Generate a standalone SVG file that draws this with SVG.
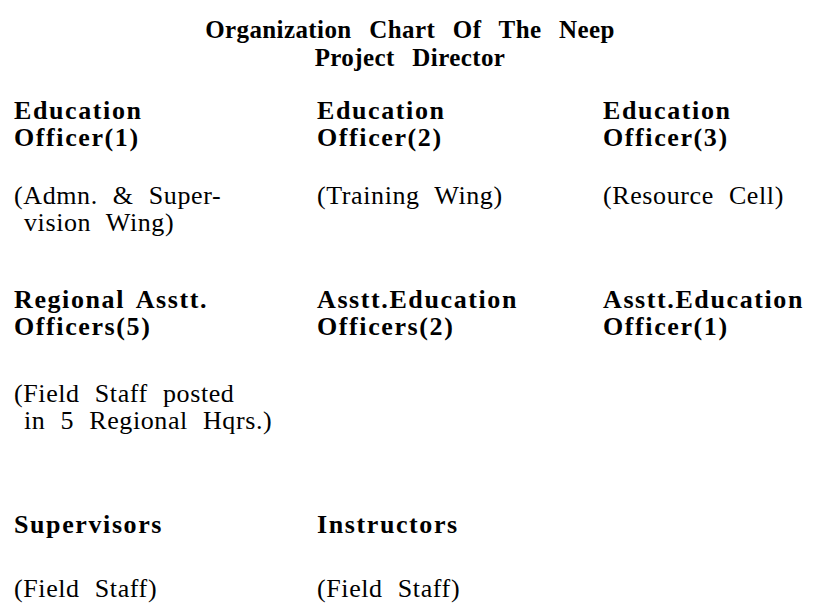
<svg xmlns="http://www.w3.org/2000/svg" width="814" height="605" viewBox="0 0 814 605">
<style>
text{font-family:"Liberation Serif","Times New Roman",serif;font-size:26px;fill:#000}
.t{font-size:25px;font-weight:bold;letter-spacing:0.4px;word-spacing:11px;text-anchor:middle}
.b{font-weight:bold;letter-spacing:1.6px;word-spacing:4px}
.r{letter-spacing:0.6px;word-spacing:8px}
</style>
<rect width="814" height="605" fill="#fff"/>
<g id="title">
<text class="t" x="410" y="38">Organization Chart Of The Neep</text>
<text class="t" x="410" y="66">Project Director</text>
</g>
<g id="eo1">
<text class="b" x="14" y="119">Education</text>
<text class="b" x="14" y="146">Officer(1)</text>
<text class="r" x="14" y="204">(Admn. &amp; Super-</text>
<text class="r" x="24" y="231">vision Wing)</text>
</g>
<g id="eo2">
<text class="b" x="317" y="119">Education</text>
<text class="b" x="317" y="146">Officer(2)</text>
<text class="r" x="317" y="204">(Training Wing)</text>
</g>
<g id="eo3">
<text class="b" x="603" y="119">Education</text>
<text class="b" x="603" y="146">Officer(3)</text>
<text class="r" x="603" y="204">(Resource Cell)</text>
</g>
<g id="rao">
<text class="b" x="14" y="308">Regional Asstt.</text>
<text class="b" x="14" y="335">Officers(5)</text>
<text class="r" x="14" y="402">(Field Staff posted</text>
<text class="r" x="24" y="429">in 5 Regional Hqrs.)</text>
</g>
<g id="aeo2">
<text class="b" x="317" y="308">Asstt.Education</text>
<text class="b" x="317" y="335">Officers(2)</text>
</g>
<g id="aeo1">
<text class="b" x="603" y="308">Asstt.Education</text>
<text class="b" x="603" y="335">Officer(1)</text>
</g>
<g id="sup">
<text class="b" x="14" y="533">Supervisors</text>
<text class="r" x="14" y="597">(Field Staff)</text>
</g>
<g id="ins">
<text class="b" x="317" y="533">Instructors</text>
<text class="r" x="317" y="597">(Field Staff)</text>
</g>
<g id="connectors"></g>
</svg>
